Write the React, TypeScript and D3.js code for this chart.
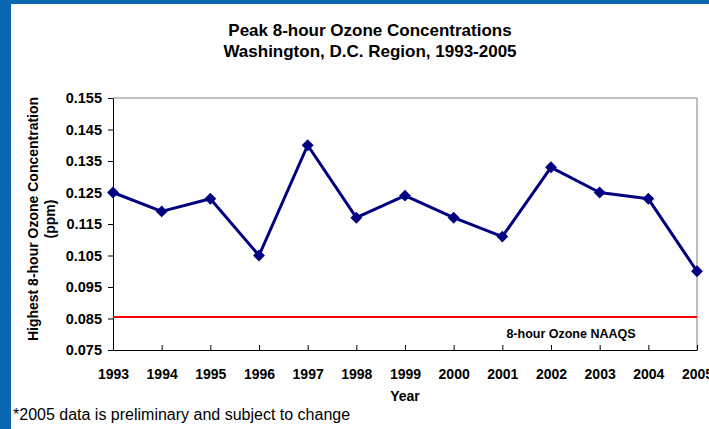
import React, { useEffect, useRef } from 'react'
import * as d3 from 'd3'

const years = ['1993', '1994', '1995', '1996', '1997', '1998', '1999', '2000', '2001', '2002', '2003', '2004', '2005']
const peakOzone = [0.125, 0.119, 0.123, 0.105, 0.140, 0.117, 0.124, 0.117, 0.111, 0.133, 0.125, 0.123, 0.100]
const yTicks = [0.075, 0.085, 0.095, 0.105, 0.115, 0.125, 0.135, 0.145, 0.155]
const naaqs = 0.0855

export default function App() {
  const ref = useRef<SVGSVGElement>(null)

  useEffect(() => {
    const svg = d3.select(ref.current)
    svg.selectAll('*').remove()

    const W = 709, H = 429
    const left = 113, right = 697, top = 98, bottom = 350
    const font = 'Liberation Sans, Arial, sans-serif'

    svg.append('rect').attr('width', W).attr('height', H).attr('fill', '#fff')
    // blue slide frame
    svg.append('rect').attr('x', 0).attr('y', 0).attr('width', W).attr('height', 4).attr('fill', '#0b66b1')
    svg.append('rect').attr('x', 0).attr('y', 0).attr('width', 11).attr('height', H).attr('fill', '#0b66b1')

    const x = d3.scalePoint().domain(years).range([left, right])
    const y = d3.scaleLinear().domain([0.075, 0.155]).range([bottom, top])

    // title
    const title = svg.append('text').attr('text-anchor', 'middle')
      .attr('font-family', font).attr('font-weight', 'bold').attr('font-size', 17)
    title.append('tspan').attr('x', 370).attr('y', 36).text('Peak 8-hour Ozone Concentrations')
    title.append('tspan').attr('x', 370).attr('y', 57).text('Washington, D.C. Region, 1993-2005')

    // plot frame (top / right grey)
    svg.append('path')
      .attr('d', `M${left},${top}H${right}V${bottom}`)
      .attr('fill', 'none').attr('stroke', '#808080').attr('stroke-width', 1)

    // y axis
    const yAxis = svg.append('g').attr('transform', `translate(${left},0)`)
      .call(d3.axisLeft(y).tickValues(yTicks).tickFormat(d3.format('.3f')).tickSize(5).tickSizeOuter(0))
    yAxis.select('.domain').attr('stroke', '#000')
    yAxis.selectAll('text').attr('font-family', font).attr('font-weight', 'bold')
      .attr('font-size', 14.5).attr('fill', '#000').attr('dx', -3)

    // x axis
    const xAxis = svg.append('g').attr('transform', `translate(0,${bottom})`)
      .call(d3.axisBottom(x).tickSize(-5).tickSizeOuter(0))
    xAxis.select('.domain').attr('stroke', '#000')
    xAxis.selectAll('text').attr('font-family', font).attr('font-weight', 'bold')
      .attr('font-size', 14).attr('fill', '#000').attr('y', 19)

    // NAAQS line
    svg.append('line')
      .attr('x1', left).attr('x2', right)
      .attr('y1', y(naaqs)).attr('y2', y(naaqs))
      .attr('stroke', '#ff0000').attr('stroke-width', 2)
    svg.append('text').attr('x', 571).attr('y', y(naaqs) + 21).attr('text-anchor', 'middle')
      .attr('font-family', font).attr('font-weight', 'bold').attr('font-size', 12.5)
      .text('8-hour Ozone NAAQS')

    // series
    const line = d3.line<number>()
      .x((_, i) => x(years[i]) as number)
      .y(d => y(d))
    svg.append('path').datum(peakOzone)
      .attr('d', line).attr('fill', 'none')
      .attr('stroke', '#000080').attr('stroke-width', 3).attr('stroke-linejoin', 'round')
    svg.selectAll('.pt').data(peakOzone).enter().append('path')
      .attr('class', 'pt')
      .attr('transform', (d, i) => `translate(${x(years[i])},${y(d)})`)
      .attr('d', d3.symbol(d3.symbolDiamond2, 90))
      .attr('fill', '#000080')

    // axis titles
    svg.append('text').attr('x', 405).attr('y', 401).attr('text-anchor', 'middle')
      .attr('font-family', font).attr('font-weight', 'bold').attr('font-size', 14)
      .text('Year')
    const yt = svg.append('text').attr('transform', 'translate(38,219) rotate(-90)')
      .attr('text-anchor', 'middle').attr('font-family', font)
      .attr('font-weight', 'bold').attr('font-size', 14)
    yt.append('tspan').attr('x', 0).attr('y', 0).text('Highest 8-hour Ozone Concentration')
    yt.append('tspan').attr('x', 0).attr('y', 17).text('(ppm)')

    // footnote
    svg.append('text').attr('x', 13).attr('y', 420)
      .attr('font-family', font).attr('font-size', 16).attr('fill', '#000')
      .text('*2005 data is preliminary and subject to change')
  }, [])

  return <svg ref={ref} width={709} height={429} style={{ position: 'absolute', left: 0, top: 0 }} />
}
